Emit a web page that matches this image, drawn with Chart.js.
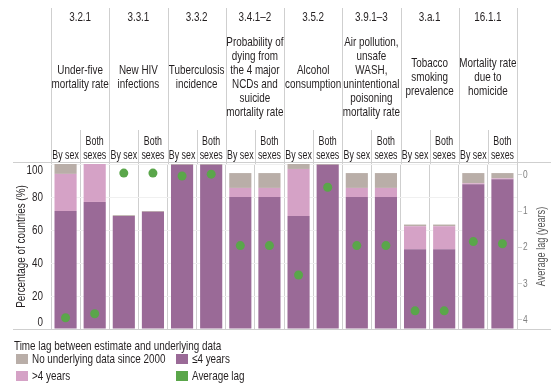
<!DOCTYPE html>
<html>
<head>
<meta charset="utf-8">
<script src="https://cdn.jsdelivr.net/npm/chart.js@4"></script>
<style>
  html, body { margin: 0; padding: 0; background: #fff; }
  #wrap { position: relative; width: 551px; height: 387px; }
</style>
</head>
<body>
<div id="wrap"><canvas id="lagChart"></canvas></div>
<script>
// ---- data ----
const codes = ['3.2.1', '3.3.1', '3.3.2', '3.4.1–2', '3.5.2', '3.9.1–3', '3.a.1', '16.1.1'];
const names = [
  ['Under-five', 'mortality rate'],
  ['New HIV', 'infections'],
  ['Tuberculosis', 'incidence'],
  ['Probability of', 'dying from', 'the 4 major', 'NCDs and', 'suicide', 'mortality rate'],
  ['Alcohol', 'consumption'],
  ['Air pollution,', 'unsafe', 'WASH,', 'unintentional', 'poisoning', 'mortality rate'],
  ['Tobacco', 'smoking', 'prevalence'],
  ['Mortality rate', 'due to', 'homicide']
];
const barLabels = ['By sex', 'Both sexes', 'By sex', 'Both sexes', 'By sex', 'Both sexes', 'By sex', 'Both sexes',
                   'By sex', 'Both sexes', 'By sex', 'Both sexes', 'By sex', 'Both sexes', 'By sex', 'Both sexes'];
// % of countries, stacked
const within4 = [71.5, 77, 68.5, 71, 99.5, 99.5, 80, 80, 68.5, 99.5, 80, 80, 48.3, 48.3, 87.7, 90.7];
const over4   = [22.5, 23, 0, 0, 0, 0, 5.5, 5.5, 28.5, 0, 5.5, 5.5, 14, 14, 0.6, 0.6];
const noData  = [6, 0, 0.5, 0.5, 0.5, 0.5, 9, 9, 3, 0.5, 9, 9, 1, 1, 6.2, 3.2];
// average lag in years (right axis)
const avgLag  = [3.94, 3.83, -0.05, -0.05, 0.03, -0.02, 1.95, 1.95, 2.76, 0.34, 1.95, 1.95, 3.75, 3.75, 1.84, 1.9];
const pctTicks = [0, 20, 40, 60, 80, 100];
const lagTicks = [0, 1, 2, 3, 4];

const FONT = "'Liberation Sans', Arial, sans-serif";
const TEXT = '#231f20';
const LINE = '#cfcfcf';
const SQUEEZE = 0.76;   // the original uses a condensed face
const colors = { noData: '#b9aea8', over4: '#d5a2c6', within4: '#9a6a97', lag: '#5aa64a' };

// text drawn horizontally squeezed to mimic the narrow font
function narrowText(ctx, text, x, y, rot, sq) {
  ctx.save();
  ctx.translate(x, y);
  if (rot) ctx.rotate(rot);
  ctx.scale(sq || SQUEEZE, 1);
  ctx.fillText(text, 0, 0);
  ctx.restore();
}

// header, extra rules, axis labels and legend
const decorPlugin = {
  id: 'decor',
  afterDraw(chart) {
    const { ctx, chartArea: ca, scales } = chart;
    const x = scales.x;
    const slot = x.width / barLabels.length;
    ctx.save();
    ctx.strokeStyle = LINE;
    ctx.lineWidth = 1;

    // top & bottom rules
    ctx.beginPath();
    ctx.moveTo(13, ca.top - 1.5); ctx.lineTo(551, ca.top - 1.5);
    ctx.moveTo(13, ca.bottom + 0.5); ctx.lineTo(551, ca.bottom + 0.5);
    ctx.stroke();

    // vertical rules above the plot
    ctx.beginPath();
    for (let g = 0; g <= codes.length; g++) {
      const xx = Math.round(ca.left + g * 2 * slot) + 0.5;
      ctx.moveTo(xx, 8); ctx.lineTo(xx, ca.top);
      if (g < codes.length) {
        const xm = Math.round(ca.left + (g * 2 + 1) * slot) + 0.5;
        ctx.moveTo(xm, 130); ctx.lineTo(xm, ca.top);
      }
    }
    ctx.stroke();

    ctx.fillStyle = TEXT;
    ctx.font = '13px ' + FONT;
    ctx.textAlign = 'center';
    ctx.textBaseline = 'middle';
    codes.forEach((c, g) => {
      const cx = (x.getPixelForValue(g * 2) + x.getPixelForValue(g * 2 + 1)) / 2;
      narrowText(ctx, c, cx, 17);
      const lines = names[g];
      const y0 = 77 - (lines.length - 1) * 14 / 2;
      lines.forEach((l, i) => narrowText(ctx, l, cx, y0 + i * 14));
    });
    barLabels.forEach((b, i) => {
      const cx = x.getPixelForValue(i);
      if (b === 'By sex') {
        narrowText(ctx, 'By sex', cx, 155, 0, 0.68);
      } else {
        narrowText(ctx, 'Both', cx, 141, 0, 0.68);
        narrowText(ctx, 'sexes', cx, 155, 0, 0.68);
      }
    });

    // left axis labels + title
    const y = scales.y;
    ctx.textAlign = 'right';
    pctTicks.forEach(v => {
      const py = Math.min(Math.max(y.getPixelForValue(v), ca.top + 6), ca.bottom - 7);
      narrowText(ctx, String(v), 43, py);
    });
    ctx.textAlign = 'center';
    narrowText(ctx, 'Percentage of countries (%)', 21, (ca.top + ca.bottom) / 2, -Math.PI / 2);

    // right axis labels + title
    const y1 = scales.y1;
    ctx.fillStyle = '#808080';
    ctx.font = '11px ' + FONT;
    ctx.textAlign = 'left';
    lagTicks.forEach(v => narrowText(ctx, String(v), 523, y1.getPixelForValue(v)));
    ctx.fillStyle = '#555';
    ctx.font = '12px ' + FONT;
    ctx.textAlign = 'center';
    narrowText(ctx, 'Average lag (years)', 542, (ca.top + ca.bottom) / 2, -Math.PI / 2);

    // legend
    ctx.fillStyle = TEXT;
    ctx.font = '13px ' + FONT;
    ctx.textAlign = 'left';
    narrowText(ctx, 'Time lag between estimate and underlying data', 14, 346);
    const items = [
      [colors.noData, 'No underlying data since 2000', 16, 359],
      [colors.within4, '≤4 years', 176, 359],
      [colors.over4, '>4 years', 16, 376],
      [colors.lag, 'Average lag', 176, 376]
    ];
    items.forEach(([col, label, lx, ly]) => {
      ctx.fillStyle = col;
      ctx.fillRect(lx, ly - 5, 12, 10);
      ctx.fillStyle = TEXT;
      narrowText(ctx, label, lx + 16, ly);
    });
    ctx.restore();
  }
};

new Chart(document.getElementById('lagChart'), {
  type: 'bar',
  data: {
    labels: barLabels,
    datasets: [
      {
        type: 'line',
        label: 'Average lag',
        data: avgLag,
        yAxisID: 'y1',
        showLine: false,
        pointRadius: 4.5,
        pointBackgroundColor: colors.lag,
        pointBorderWidth: 0,
        order: 0
      },
      { label: '≤4 years', data: within4, backgroundColor: colors.within4, yAxisID: 'y', order: 1, barPercentage: 0.76, categoryPercentage: 1 },
      { label: '>4 years', data: over4, backgroundColor: colors.over4, yAxisID: 'y', order: 1, barPercentage: 0.76, categoryPercentage: 1 },
      { label: 'No underlying data since 2000', data: noData, backgroundColor: colors.noData, yAxisID: 'y', order: 1, barPercentage: 0.76, categoryPercentage: 1 }
    ]
  },
  options: {
    responsive: true,
    maintainAspectRatio: false,
    animation: false,
    layout: { padding: { top: 164, bottom: 58, left: 0, right: 0 } },
    plugins: { legend: { display: false }, tooltip: { enabled: false } },
    scales: {
      x: {
        stacked: true,
        offset: true,
        ticks: { display: false },
        grid: { offset: true, color: LINE, drawTicks: false },
        border: { display: false },
        afterFit: s => { s.height = 0; }
      },
      y: {
        stacked: true,
        min: 0, max: 100,
        afterBuildTicks: s => { s.ticks = pctTicks.map(v => ({ value: v })); },
        ticks: { display: false },
        grid: { color: '#f0f0f0', drawTicks: false },
        border: { display: false },
        afterFit: s => { s.width = 51; }
      },
      y1: {
        position: 'right',
        reverse: true,
        min: -0.3, max: 4.25,
        afterBuildTicks: s => { s.ticks = lagTicks.map(v => ({ value: v })); },
        ticks: { display: false },
        grid: { drawOnChartArea: false, color: LINE, tickLength: 5 },
        border: { color: LINE },
        afterFit: s => { s.width = 34; }
      }
    }
  },
  plugins: [decorPlugin]
});
</script>
</body>
</html>
